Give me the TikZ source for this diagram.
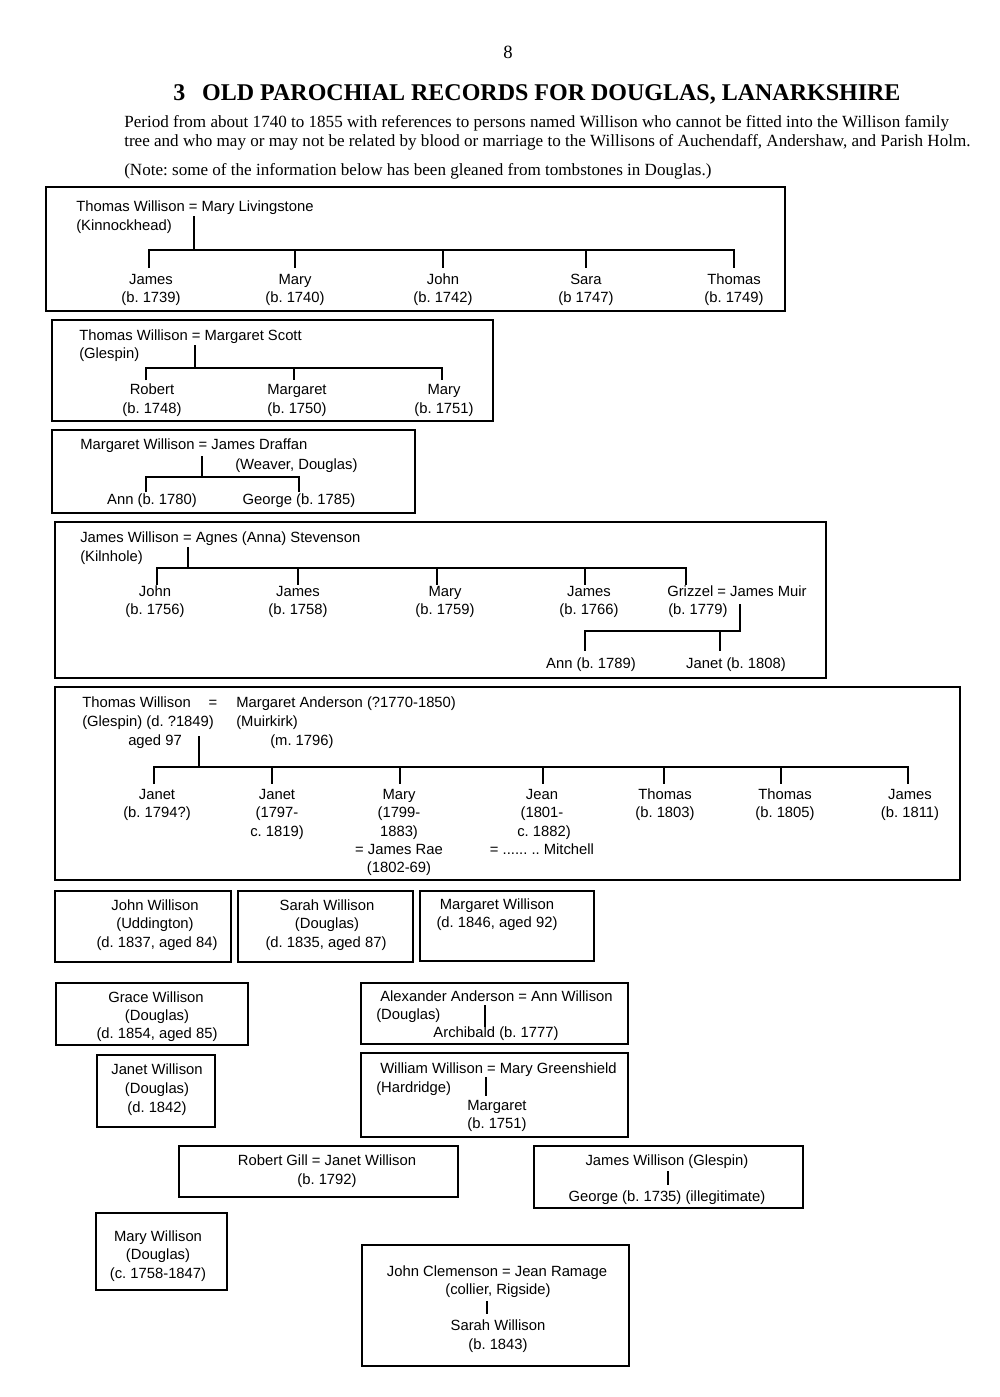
\documentclass[tikz,border=0pt]{standalone}
\usepackage{fontspec}
\setmainfont{Liberation Serif}
\newfontfamily\tfont{Liberation Sans}
\newcommand\tsz{\fontsize{11.1pt}{13.9pt}\selectfont\frenchspacing}
\newcommand\psz{\fontsize{12.8pt}{15pt}\selectfont\frenchspacing}
\begin{document}
\begin{tikzpicture}[x=0.75pt,y=-0.75pt,
  t/.style={font=\tfont\tsz, inner sep=0pt, anchor=base},
  tl/.style={t, anchor=base west},
  pl/.style={inner sep=0pt, anchor=base west, font=\psz},
  bx/.style={draw, line width=1.5pt},
  ln/.style={draw, line width=1.5pt}]
\useasboundingbox (0,0) rectangle (1000,1397);
% header
\node[inner sep=0pt, anchor=base, font=\fontsize{14pt}{16pt}\selectfont] (pg) at (508,58) {8};
\node[inner sep=0pt, anchor=base, font=\bfseries\fontsize{18pt}{20pt}\selectfont] (title) at (537,100) {3\hspace{0.45em} OLD PAROCHIAL RECORDS FOR DOUGLAS, LANARKSHIRE};
\node[pl] (p1) at (124,127) {Period from about 1740 to 1855 with references to persons named Willison who cannot be fitted into the Willison family};
\node[pl] (p2) at (124,146) {tree and who may or may not be related by blood or marriage to the Willisons of Auchendaff, Andershaw, and Parish Holm.};
\node[pl] (p3) at (124,175) {(Note: some of the information below has been gleaned from tombstones in Douglas.)};

% ---------- Box 1
\draw[bx] (46,187) rectangle (785,311);
\node[tl] (a0) at (76,211) {Thomas Willison = Mary Livingstone};
\node[tl] (a0b) at (76,230) {(Kinnockhead)};
\coordinate (a0d) at (194,216);
\coordinate (a0h) at (194,250);
\foreach \n/\x/\nm/\dt in {1/151/James/(b. 1739), 2/295/Mary/(b. 1740), 3/443/John/(b. 1742), 4/586/Sara/(b 1747), 5/734/Thomas/(b. 1749)} {
  \node[t] (a\n) at (\x,284) {\nm};
  \node[t] (a\n d) at (\x,302) {\dt};
}
\coordinate (a1t) at (149,250); \coordinate (a1u) at (149,268);
\coordinate (a2t) at (295,250); \coordinate (a2u) at (295,268);
\coordinate (a3t) at (443,250); \coordinate (a3u) at (443,268);
\coordinate (a4t) at (586,250); \coordinate (a4u) at (586,268);
\coordinate (a5t) at (734,250); \coordinate (a5u) at (734,268);
\draw[ln] (a0d) -- (a0h);
\draw[ln] (a1u) -- (a1t) -- (a5t) -- (a5u);
\foreach \n in {2,3,4} \draw[ln] (a\n t) -- (a\n u);

% ---------- Box 2
\draw[bx] (52,320) rectangle (493,421);
\node[tl] (b0) at (79,340) {Thomas Willison = Margaret Scott};
\node[tl] (b0b) at (79,358) {(Glespin)};
\coordinate (b0d) at (195,345);
\coordinate (b0h) at (195,368);
\foreach \n/\x/\nm/\dt in {1/152/Robert/(b. 1748), 2/297/Margaret/(b. 1750), 3/444/Mary/(b. 1751)} {
  \node[t] (b\n) at (\x,394) {\nm};
  \node[t] (b\n d) at (\x,413) {\dt};
}
\coordinate (b1t) at (146,368); \coordinate (b1u) at (146,380);
\coordinate (b2t) at (294,368); \coordinate (b2u) at (294,380);
\coordinate (b3t) at (442,368); \coordinate (b3u) at (442,380);
\draw[ln] (b0d) -- (b0h);
\draw[ln] (b1u) -- (b1t) -- (b3t) -- (b3u);
\draw[ln] (b2t) -- (b2u);

% ---------- Box 3
\draw[bx] (52,430) rectangle (415,513);
\node[tl] (c0) at (80,449) {Margaret Willison = James Draffan};
\node[tl] (c0b) at (235,469) {(Weaver, Douglas)};
\coordinate (c0d) at (202,456);
\coordinate (c0h) at (202,477);
\node[t] (c1) at (152,504) {Ann (b. 1780)};
\node[t] (c2) at (299,504) {George (b. 1785)};
\coordinate (c1t) at (146,477); \coordinate (c1u) at (146,492);
\coordinate (c2t) at (299,477); \coordinate (c2u) at (299,492);
\draw[ln] (c0d) -- (c0h);
\draw[ln] (c1u) -- (c1t) -- (c2t) -- (c2u);

% ---------- Box 4
\draw[bx] (55,522) rectangle (826,678);
\node[tl] (d0) at (80,542) {James Willison = Agnes (Anna) Stevenson};
\node[tl] (d0b) at (80,561) {(Kilnhole)};
\coordinate (d0d) at (188,547);
\coordinate (d0h) at (188,568);
\foreach \n/\x/\nm/\dt in {1/155/John/(b. 1756), 2/298/James/(b. 1758), 3/445/Mary/(b. 1759), 4/589/James/(b. 1766)} {
  \node[t] (d\n) at (\x,596) {\nm};
  \node[t] (d\n d) at (\x,614) {\dt};
}
\node[tl] (d5) at (667,596) {Grizzel = James Muir};
\node[tl] (d5d) at (668,614) {(b. 1779)};
\coordinate (d1t) at (157,568); \coordinate (d1u) at (157,585);
\coordinate (d2t) at (298,568); \coordinate (d2u) at (298,585);
\coordinate (d3t) at (437,568); \coordinate (d3u) at (437,585);
\coordinate (d4t) at (585,568); \coordinate (d4u) at (585,585);
\coordinate (d5t) at (686,568); \coordinate (d5u) at (686,585);
\draw[ln] (d0d) -- (d0h);
\draw[ln] (d1u) -- (d1t) -- (d5t) -- (d5u);
\foreach \n in {2,3,4} \draw[ln] (d\n t) -- (d\n u);
\coordinate (e0d) at (740,604);
\coordinate (e0h) at (740,631);
\coordinate (e1t) at (585,631); \coordinate (e1u) at (585,651);
\coordinate (e2t) at (720,631); \coordinate (e2u) at (720,651);
\node[t] (e1) at (591,668) {Ann (b. 1789)};
\node[t] (e2) at (736,668) {Janet (b. 1808)};
\draw[ln] (e0d) -- (e0h) -- (e1t) -- (e1u);
\draw[ln] (e2t) -- (e2u);

% ---------- Box 5
\draw[bx] (55,687) rectangle (960,880);
\node[tl] (f0) at (82,707) {Thomas Willison};
\node[t] (feq) at (213,707) {=};
\node[tl] (f0w) at (236,707) {Margaret Anderson (?1770-1850)};
\node[tl] (f0b) at (82,726) {(Glespin) (d. ?1849)};
\node[tl] (f0wb) at (236,726) {(Muirkirk)};
\node[tl] (f0c) at (128,745) {aged 97};
\node[tl] (f0wc) at (270,745) {(m. 1796)};
\coordinate (f0d) at (199,736);
\coordinate (f0h) at (199,767);
\node[t] (f1) at (157,799) {Janet};
\node[t] (f1b) at (157,817) {(b. 1794?)};
\node[t] (f2) at (277,799) {Janet};
\node[t] (f2b) at (277,817) {(1797-};
\node[t] (f2c) at (277,836) {c. 1819)};
\node[t] (f3) at (399,799) {Mary};
\node[t] (f3b) at (399,817) {(1799-};
\node[t] (f3c) at (399,836) {1883)};
\node[t] (f3d) at (399,854) {= James Rae};
\node[t] (f3e) at (399,872) {(1802-69)};
\node[t] (f4) at (542,799) {Jean};
\node[t] (f4b) at (542,817) {(1801-};
\node[t] (f4c) at (544,836) {c. 1882)};
\node[t] (f4d) at (542,854) {= ...... .. Mitchell};
\node[t] (f5) at (665,799) {Thomas};
\node[t] (f5b) at (665,817) {(b. 1803)};
\node[t] (f6) at (785,799) {Thomas};
\node[t] (f6b) at (785,817) {(b. 1805)};
\node[t] (f7) at (910,799) {James};
\node[t] (f7b) at (910,817) {(b. 1811)};
\coordinate (f1t) at (154,767); \coordinate (f1u) at (154,784);
\coordinate (f2t) at (272,767); \coordinate (f2u) at (272,784);
\coordinate (f3t) at (400,767); \coordinate (f3u) at (400,784);
\coordinate (f4t) at (543,767); \coordinate (f4u) at (543,784);
\coordinate (f5t) at (664,767); \coordinate (f5u) at (664,784);
\coordinate (f6t) at (781,767); \coordinate (f6u) at (781,784);
\coordinate (f7t) at (908,767); \coordinate (f7u) at (908,784);
\draw[ln] (f0d) -- (f0h);
\draw[ln] (f1u) -- (f1t) -- (f7t) -- (f7u);
\foreach \n in {2,...,6} \draw[ln] (f\n t) -- (f\n u);

% ---------- small boxes
\draw[bx] (55,891) rectangle (231,962);
\node[t] (g1) at (155,910) {John Willison};
\node[t] (g2) at (155,928) {(Uddington)};
\node[t] (g3) at (157,947) {(d. 1837, aged 84)};

\draw[bx] (238,891) rectangle (413,962);
\node[t] (h1) at (327,910) {Sarah Willison};
\node[t] (h2) at (327,928) {(Douglas)};
\node[t] (h3) at (326,947) {(d. 1835, aged 87)};

\draw[bx] (420,891) rectangle (594,961);
\node[t] (i1) at (497,909) {Margaret Willison};
\node[t] (i2) at (497,927) {(d. 1846, aged 92)};

\draw[bx] (56,983) rectangle (248,1045);
\node[t] (j1) at (156,1002) {Grace Willison};
\node[t] (j2) at (157,1020) {(Douglas)};
\node[t] (j3) at (157,1038) {(d. 1854, aged 85)};

\draw[bx] (361,983) rectangle (628,1044);
\node[tl] (k1) at (380,1001) {Alexander Anderson = Ann Willison};
\node[tl] (k2) at (376,1019) {(Douglas)};
\node[t] (k3) at (496,1037) {Archibald (b. 1777)};
\coordinate (k0d) at (485,1005);
\coordinate (k0u) at (485,1027);
\draw[ln] (k0d) -- (k0u);

\draw[bx] (97,1055) rectangle (215,1127);
\node[t] (l1) at (157,1074) {Janet Willison};
\node[t] (l2) at (157,1093) {(Douglas)};
\node[t] (l3) at (157,1112) {(d. 1842)};

\draw[bx] (361,1053) rectangle (628,1137);
\node[tl] (m1) at (380,1073) {William Willison = Mary Greenshield};
\node[tl] (m2) at (376,1092) {(Hardridge)};
\coordinate (m0d) at (486,1077);
\coordinate (m0u) at (486,1096);
\draw[ln] (m0d) -- (m0u);
\node[t] (m3) at (497,1110) {Margaret};
\node[t] (m4) at (497,1128) {(b. 1751)};

\draw[bx] (179,1146) rectangle (458,1197);
\node[t] (n1) at (327,1165) {Robert Gill = Janet Willison};
\node[t] (n2) at (327,1184) {(b. 1792)};

\draw[bx] (534,1146) rectangle (803,1208);
\node[t] (o1) at (667,1165) {James Willison (Glespin)};
\coordinate (o0d) at (668,1171);
\coordinate (o0u) at (668,1185);
\draw[ln] (o0d) -- (o0u);
\node[t] (o2) at (667,1201) {George (b. 1735) (illegitimate)};

\draw[bx] (96,1213) rectangle (227,1290);
\node[t] (q1) at (158,1241) {Mary Willison};
\node[t] (q2) at (158,1259) {(Douglas)};
\node[t] (q3) at (158,1278) {(c. 1758-1847)};

\draw[bx] (362,1245) rectangle (629,1366);
\node[t] (r1) at (497,1276) {John Clemenson = Jean Ramage};
\node[t] (r2) at (498,1294) {(collier, Rigside)};
\coordinate (r0d) at (487,1301);
\coordinate (r0u) at (487,1314);
\draw[ln] (r0d) -- (r0u);
\node[t] (r3) at (498,1330) {Sarah Willison};
\node[t] (r4) at (498,1349) {(b. 1843)};
\end{tikzpicture}
\end{document}
